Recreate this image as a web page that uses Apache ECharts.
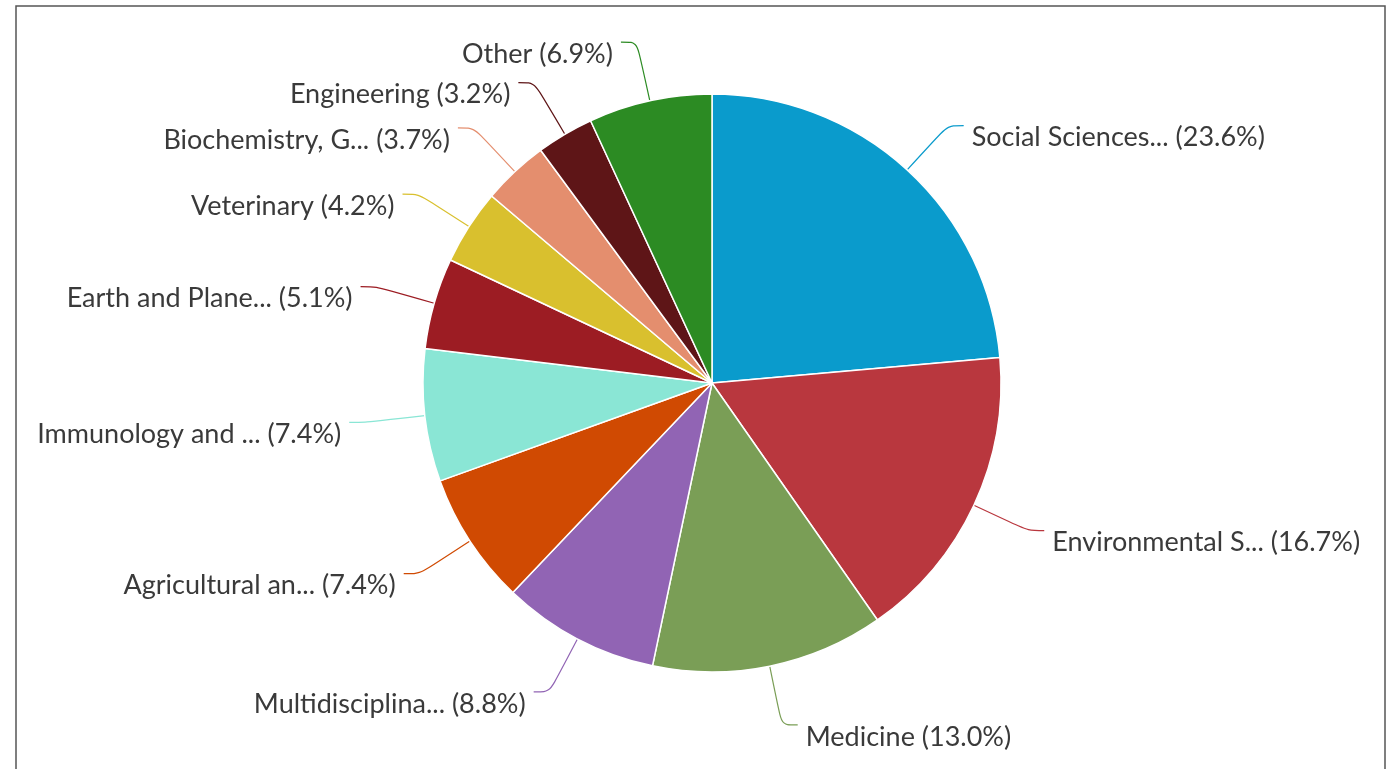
<!DOCTYPE html>
<html>
<head>
<meta charset="utf-8">
<script src="https://cdn.jsdelivr.net/npm/echarts@6/dist/echarts.min.js"></script>
<style>
html,body{margin:0;padding:0;background:#fff;}
#c{width:1397px;height:769px;}
</style>
</head>
<body>
<div id="c"></div>
<script>
const categories = ["Social Sciences...", "Environmental S...", "Medicine", "Multidisciplina...", "Agricultural an...", "Immunology and ...", "Earth and Plane...", "Veterinary", "Biochemistry, G...", "Engineering", "Other"];
const values = [23.6, 16.7, 13.0, 8.8, 7.4, 7.4, 5.1, 4.2, 3.7, 3.2, 6.9];
const colors = ["#0a9bcc", "#b9373e", "#7a9e56", "#9164b4", "#d04a02", "#8ae6d5", "#9c1c23", "#d9c02e", "#e48e6e", "#5e1517", "#2c8b23"];

const chart = echarts.init(document.getElementById('c'));
chart.setOption({
  animation: false,
  backgroundColor: '#fff',
  graphic: [{
    type: 'rect',
    shape: {x: 16, y: 6, width: 1369, height: 800},
    style: {fill: 'none', stroke: '#555', lineWidth: 1.5},
    silent: true
  }],
  series: [{
    type: 'pie',
    center: [712, 383],
    radius: [0, 289],
    startAngle: 90,
    clockwise: true,
    avoidLabelOverlap: true,
    data: categories.map((n, i) => ({name: n, value: values[i], itemStyle: {color: colors[i]}})),
    itemStyle: {borderColor: '#fff', borderWidth: 1.5},
    label: {
      show: true,
      formatter: p => p.name + ' (' + p.value.toFixed(1) + '%)',
      fontFamily: 'Lato',
      fontSize: 27,
      color: '#3a3a3a',
      distanceToLabelLine: 8
    },
    labelLine: {
      show: true,
      length: 60,
      length2: 16,
      smooth: 0.3,
      lineStyle: {width: 1.2}
    },
    labelLayout: {dy: 12}
  }]
});
</script>
</body>
</html>
